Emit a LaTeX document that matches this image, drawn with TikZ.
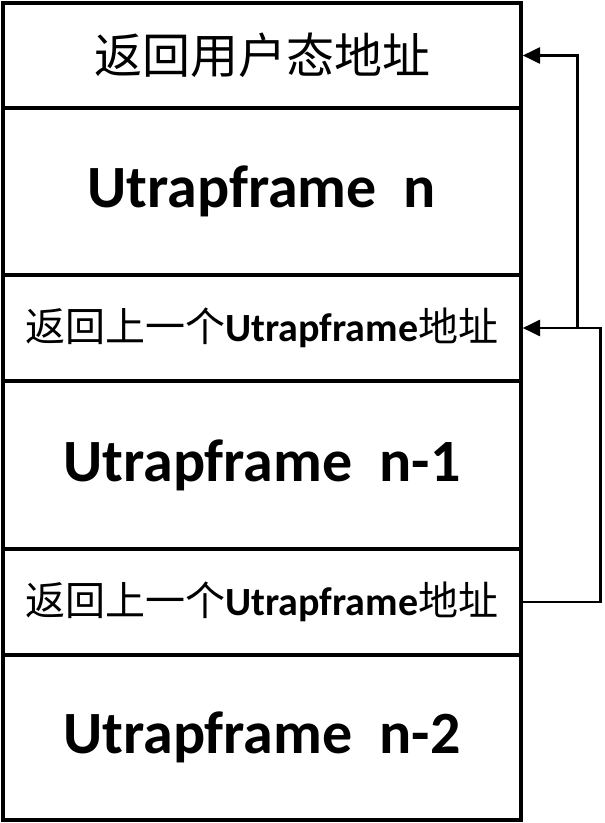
\documentclass[tikz,border=0pt]{standalone}
\usepackage{fontspec}
\setmainfont{Carlito}
\newfontfamily\cjk{Noto Sans CJK SC}
\usetikzlibrary{arrows.meta}
\tikzset{
	row/.style={draw, line width=2.6pt, minimum width=388.5pt, inner sep=0pt},
	link/.style={line width=2.1pt, -{Triangle[length=13pt,width=12pt]}}}
\newcommand{\retaddr}{{\cjk 返回上一个}\textbf{Utrapframe}{\cjk 地址}}

\begin{document}
\begin{tikzpicture}[x=0.75pt, y=-0.75pt]
	\useasboundingbox (0,0) rectangle (604,823);

% PILE
	\node[row, minimum height=78.75pt, font=\fontsize{36pt}{40pt}\selectfont] (top) at (262,55.5) {\cjk 返回用户态地址};
	\node[row, minimum height=125.25pt, font=\fontsize{45pt}{50pt}\selectfont\bfseries] (fn) at (262,191.5) {Utrapframe~~n};
	\node[row, minimum height=79.5pt, font=\fontsize{30pt}{33pt}\selectfont] (ret1) at (262,328) {\retaddr};
	\node[row, minimum height=126pt, font=\fontsize{45pt}{50pt}\selectfont\bfseries] (fn1) at (262,465) {Utrapframe~~n-1};
	\node[row, minimum height=79.5pt, font=\fontsize{30pt}{33pt}\selectfont] (ret2) at (262,602) {\retaddr};
	\node[row, minimum height=123.75pt, font=\fontsize{45pt}{50pt}\selectfont\bfseries] (fn2) at (262,737.5) {Utrapframe~~n-2};

% LIENS
	\draw[link] (ret2.east) -- ++(78,0) |- (ret1.east);
	\draw[link] (ret1.east) ++(55,0) |- (top.east);

\end{tikzpicture}
\end{document}
